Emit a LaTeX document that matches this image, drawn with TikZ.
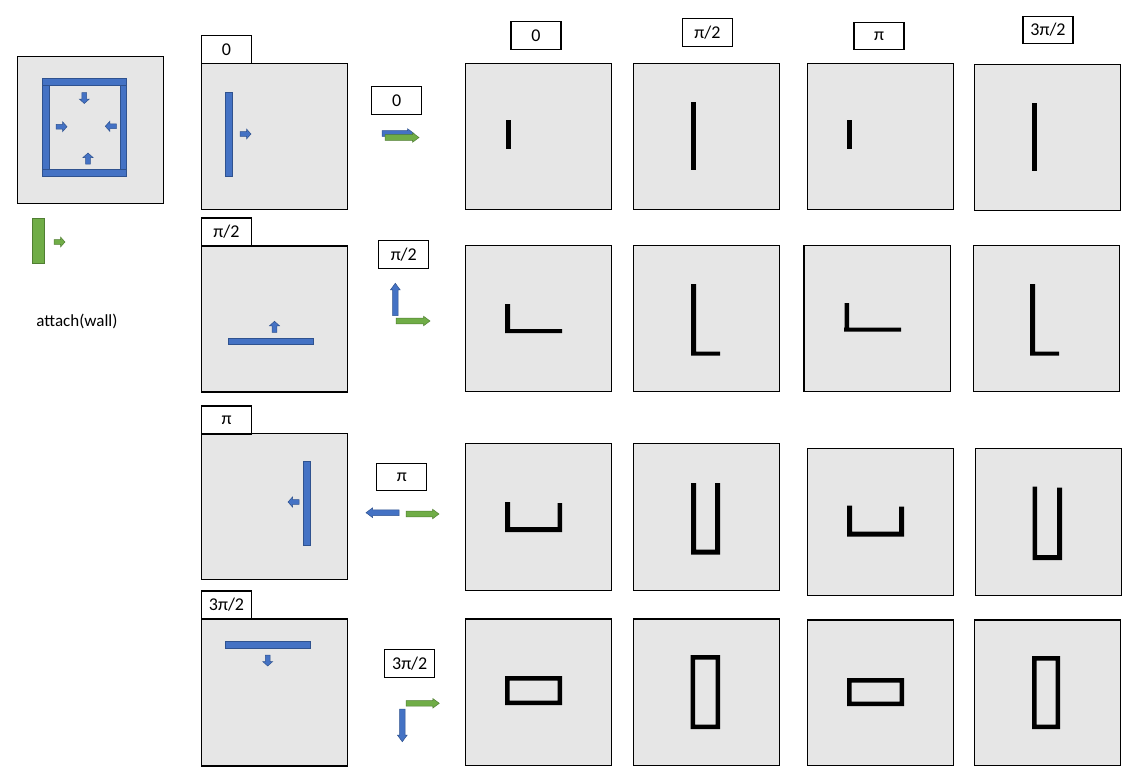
\documentclass[tikz,border=0pt]{standalone}
\usepackage{fontspec}
\setmainfont{Carlito}
\definecolor{panelgray}{RGB}{230,230,230}
\definecolor{wblue}{RGB}{68,114,196}
\definecolor{wbluedk}{RGB}{47,82,143}
\definecolor{wgreen}{RGB}{112,173,71}
\definecolor{wgreendk}{RGB}{80,126,50}
\tikzset{
  panel/.style={fill=panelgray,draw=black,line width=1.3pt},
  lbl/.style={draw=black,fill=white,line width=1.1pt,minimum width=50pt,minimum height=27.5pt,inner sep=0pt,font=\fontsize{18}{20}\selectfont},
  bluewall/.style={fill=wblue,draw=wbluedk,line width=0.6pt},
  greenwall/.style={fill=wgreen,draw=wgreendk,line width=0.6pt},
  barblue/.style={fill=wblue,draw=wbluedk,line width=0.5pt,line join=miter},
  bargreen/.style={fill=wgreen,draw=wgreendk,line width=0.5pt,line join=miter},
  blk/.style={fill=black,draw=none},
}
% #1 style, #2 x, #3 y, #4 angle, #5 length, #6 half shaft, #7 half head, #8 head length
\newcommand\blockarr[8]{%
  \filldraw[#1,shift={(#2,#3)},rotate=#4] (0,-#6) -- ({#5-#8},-#6) -- ({#5-#8},-#7) -- (#5,0) -- ({#5-#8},#7) -- ({#5-#8},#6) -- (0,#6) -- cycle;}
\newcommand\smallarr[4]{\blockarr{#1}{#2}{#3}{#4}{11}{2.4}{5}{4.5}}
\newcommand\midarr[5]{\blockarr{#1}{#2}{#3}{#4}{#5}{2.8}{4.8}{6.5}}
\begin{document}
\begin{tikzpicture}[x=1pt,y=-1pt]
\useasboundingbox (0,0) rectangle (1140,784);
\fill[white] (0,0) rectangle (1140,784);

% ---------- legend (top left) ----------
\path[panel] (17.3,56.5) rectangle (163.5,203.3);
\path[bluewall] (42.3,78.3) rectangle (126.7,85);
\path[bluewall] (42.3,169.3) rectangle (126.7,176.7);
\path[bluewall] (42.3,85) rectangle (49,169.3);
\path[bluewall] (120,85) rectangle (126.7,169.3);
\smallarr{barblue}{84.3}{92.5}{270}
\smallarr{barblue}{56}{126.7}{0}
\smallarr{barblue}{116.3}{126.3}{180}
\smallarr{barblue}{88}{164}{90}
\path[greenwall] (32.3,218.3) rectangle (44.7,263.3);
\smallarr{bargreen}{54}{242}{0}
\node[font=\fontsize{17}{19}\selectfont] (attach) at (77,321) {attach(wall)};

% ---------- column 1: wall orientations ----------
\path[panel] (201.3,63.3) rectangle (347.3,209.3);
\node[lbl,minimum height=28pt] (t0) at (226.5,49.5) {0};
\path[bluewall] (225,92) rectangle (232.7,176.7);
\smallarr{barblue}{240}{134}{0}

\path[panel] (201.3,246) rectangle (347.3,392);
\node[lbl,minimum height=28pt] (t1) at (226.5,232) {π/2};
\path[bluewall] (228,338) rectangle (313.7,344.3);
\smallarr{barblue}{274.5}{332.3}{90}

\path[panel] (201.3,433.3) rectangle (347.3,579.3);
\node[lbl,minimum height=28pt] (t2) at (226.5,420) {π};
\path[bluewall] (303.3,461) rectangle (310.7,545.7);
\smallarr{barblue}{299}{502}{180}

\path[panel] (201.3,619) rectangle (347.3,766);
\node[lbl,minimum height=28pt] (t3) at (226.5,605) {3π/2};
\path[bluewall] (225,641) rectangle (310.7,648.3);
\smallarr{barblue}{267.7}{655}{270}

% ---------- middle column: rotation labels and arrows ----------
\node[lbl] (m0) at (396.7,100.3) {0};
\midarr{barblue}{382}{133.5}{0}{32}
\midarr{bargreen}{385}{137.5}{0}{34}

\node[lbl] (m1) at (403.8,254.3) {π/2};
\midarr{barblue}{395.3}{315.7}{90}{32.4}
\midarr{bargreen}{396}{321}{0}{34}

\node[lbl] (m2) at (401.8,477) {π};
\midarr{barblue}{399}{512.7}{180}{33}
\midarr{bargreen}{406}{514}{0}{33}

\node[lbl] (m3) at (409.7,663.3) {3π/2};
\midarr{bargreen}{406}{703.3}{0}{33.3}
\midarr{barblue}{402.3}{709}{270}{32.7}

% ---------- top labels ----------
\node[lbl] (c0) at (536,35.5) {0};
\node[lbl] (c1) at (707.5,32.5) {π/2};
\node[lbl] (c2) at (879,36) {π};
\node[lbl] (c3) at (1048,30) {3π/2};

% ---------- row 1 ----------
\path[panel] (465.3,63.3) rectangle (611.7,209.3);
\path[panel] (633.3,63.3) rectangle (779.3,209.3);
\path[panel] (807.3,63.3) rectangle (953.3,209.3);
\path[panel] (974.3,64.3) rectangle (1120.7,210.3);
\fill[blk] (506,120) rectangle (510.5,149);
\fill[blk] (691,102) rectangle (696,170);
\fill[blk] (847,120) rectangle (852,149);
\fill[blk] (1032,103) rectangle (1036.5,171);

% ---------- row 2 ----------
\path[panel] (465.3,245.3) rectangle (611.7,391.3);
\path[panel] (633.3,245.3) rectangle (779.3,391.3);
\path[panel] (804,245.3) rectangle (950.7,391.3);
\path[panel] (973.3,245.3) rectangle (1119.3,391.3);
\fill[blk] (505,304) rectangle (510,333) (505,329) rectangle (562,333);
\fill[blk] (691,284) rectangle (696,355.7) (691,351.7) rectangle (720,355.7);
\fill[blk] (844.5,303) rectangle (849,331.7) (844,327.5) rectangle (901,331.7);
\fill[blk] (1030,284) rectangle (1035,355.7) (1030,351.7) rectangle (1059,355.7);

% ---------- row 3 ----------
\path[panel] (465.3,443.3) rectangle (611.7,590.3);
\path[panel] (633.3,443.3) rectangle (779.3,590.3);
\path[panel] (807.3,448.3) rectangle (953.7,595.7);
\path[panel] (975.3,448.3) rectangle (1121.7,595.7);
\fill[blk] (505,502) rectangle (510,532) (505,527) rectangle (562,532) (557.5,503) rectangle (562,532);
\fill[blk] (691,483) rectangle (696,554.7) (691,549.7) rectangle (720,554.7) (715,483) rectangle (720,554.7);
\fill[blk] (847,505.7) rectangle (852,536.7) (847,531.7) rectangle (904,536.7) (899,506.7) rectangle (904,536.7);
\fill[blk] (1032.7,486.7) rectangle (1037,560) (1032.7,555) rectangle (1062,560) (1057,487.7) rectangle (1062,560);

% ---------- row 4 ----------
\path[panel] (465.3,619) rectangle (611.7,765.5);
\path[panel] (633.3,619) rectangle (779.3,765.5);
\path[panel] (807.3,620) rectangle (953.3,765.5);
\path[panel] (974.8,620) rectangle (1120.5,765.5);
\fill[blk,even odd rule] (505,676) rectangle (562,705) (509.5,680.5) rectangle (557.5,700.5);
\fill[blk,even odd rule] (690.5,655) rectangle (720,729) (695,659.5) rectangle (715.5,724.5);
\fill[blk,even odd rule] (847,678) rectangle (904,706) (851.5,682.5) rectangle (899.5,701.5);
\fill[blk,even odd rule] (1032,656) rectangle (1060,729) (1036.5,660.5) rectangle (1055.5,724.5);
\end{tikzpicture}
\end{document}
